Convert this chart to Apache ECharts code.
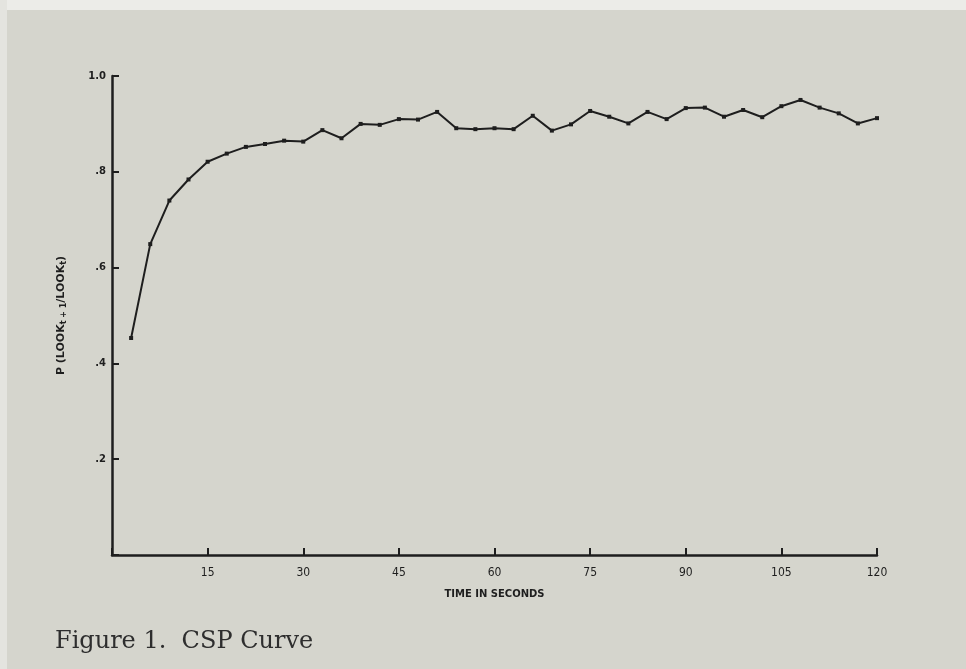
<!DOCTYPE html>
<html>
<head>
<meta charset="utf-8">
<script src="https://cdn.jsdelivr.net/npm/echarts@6/dist/echarts.min.js"></script>
<style>
html,body{margin:0;padding:0;background:#eeeeea;}
#chart{width:966px;height:669px;}
</style>
</head>
<body>
<div id="chart"></div>
<script>
// Time in seconds (every 3 s)
const times = [3,6,9,12,15,18,21,24,27,30,33,36,39,42,45,48,51,54,57,60,63,66,69,72,75,78,81,84,87,90,93,96,99,102,105,108,111,114,117,120];
// P(LOOK t+1 / LOOK t)
const probs = [0.453,0.649,0.740,0.784,0.821,0.838,0.852,0.858,0.865,0.863,0.887,0.870,0.900,0.898,0.910,0.909,0.925,0.891,0.889,0.891,0.889,0.917,0.886,0.899,0.927,0.915,0.901,0.925,0.910,0.933,0.934,0.915,0.929,0.914,0.937,0.950,0.934,0.922,0.901,0.912];
const xTicks = [15,30,45,60,75,90,105,120];
const yTickLabels = {0.2:'.2',0.4:'.4',0.6:'.6',0.8:'.8',1:'1.0'};

const chart = echarts.init(document.getElementById('chart'));
const ink = '#1e1e1e';
chart.setOption({
  backgroundColor: '#d5d5cd',
  animation: false,
  grid: {left: 112, right: 89, top: 76, bottom: 114},
  graphic: [
    {type:'rect', left:0, top:0, shape:{width:966, height:10}, style:{fill:'#ecece8'}, z:-1},
    {type:'rect', left:0, top:0, shape:{width:7, height:669}, style:{fill:'#e4e4df'}, z:-1},
    {type:'text', left:55, top:630, style:{text:'Figure 1.  CSP Curve', font:'24px "DejaVu Serif", "Liberation Serif", serif', fill:'#2e2e2e'}}
  ],
  xAxis: {
    type: 'value', min: 0, max: 120, interval: 15,
    name: 'TIME IN SECONDS', nameLocation: 'middle', nameGap: 34,
    nameTextStyle: {color: ink, fontSize: 10, fontWeight: 'bold', fontFamily: 'DejaVu Sans'},
    axisLine: {lineStyle: {color: ink, width: 2.5}},
    axisTick: {inside: true, length: 7, lineStyle: {color: ink, width: 2}},
    splitLine: {show: false},
    axisLabel: {
      color: ink, fontSize: 12, fontFamily: 'DejaVu Sans Condensed', margin: 12,
      formatter: v => xTicks.includes(v) ? String(v) : ''
    }
  },
  yAxis: {
    type: 'value', min: 0, max: 1, interval: 0.2,
    name: 'P (LOOK{s|t + 1}/LOOK{s|t})', nameLocation: 'middle', nameGap: 44, nameRotate: 90,
    nameTextStyle: {color: ink, fontSize: 11, fontWeight: 'bold', fontFamily: 'DejaVu Sans',
      rich: {s: {fontSize: 8, fontWeight: 'bold', verticalAlign: 'bottom', padding: [6,0,0,0]}}},
    axisLine: {show: true, lineStyle: {color: ink, width: 2.5}},
    axisTick: {show: true, inside: true, length: 7, lineStyle: {color: ink, width: 2}},
    splitLine: {show: false},
    axisLabel: {
      color: ink, fontSize: 10, fontWeight: 'bold', fontFamily: 'DejaVu Sans', margin: 6,
      formatter: v => { const k = Math.round(v*10)/10; return yTickLabels[k] || ''; }
    }
  },
  series: [{
    type: 'line',
    data: times.map((t,i) => [t, probs[i]]),
    symbol: 'rect', symbolSize: 4, showSymbol: true,
    lineStyle: {color: ink, width: 2},
    itemStyle: {color: ink}
  }]
});
</script>
</body>
</html>
